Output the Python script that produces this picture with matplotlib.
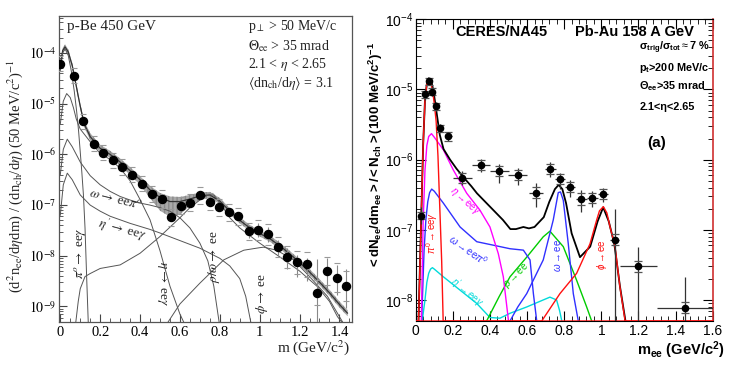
import matplotlib
matplotlib.use("Agg")
import matplotlib.pyplot as plt
import numpy as np
from matplotlib.ticker import MultipleLocator, LogLocator, NullFormatter

plt.rcParams["mathtext.fontset"] = "custom"
plt.rcParams["mathtext.rm"] = "Liberation Sans"
plt.rcParams["mathtext.it"] = "Liberation Sans:italic"
plt.rcParams["mathtext.bf"] = "Liberation Sans:bold"

# ---------------- left panel: p-Be 450 GeV (values as log10) ----------------
pbe_m = [0.0, 0.069, 0.115, 0.169, 0.216, 0.263, 0.309, 0.361, 0.411, 0.458,
         0.509, 0.554, 0.604, 0.650, 0.701, 0.751, 0.797, 0.848, 0.893, 0.945,
         0.993, 1.043, 1.090, 1.138, 1.189, 1.239, 1.286, 1.336, 1.386, 1.433]
pbe_log = [-4.21, -4.45, -5.35, -5.79, -5.97, -6.12, -6.25, -6.40, -6.58, -6.78,
           -6.88, -7.24, -7.01, -6.95, -6.81, -6.93, -7.04, -7.14, -7.22, -7.52,
           -7.49, -7.58, -7.83, -8.02, -8.13, -8.17, -8.73, -8.30, -8.43, -8.60]
pbe_up = [0.05, 0.05, 0.05, 0.05, 0.05, 0.05, 0.05, 0.05, 0.05, 0.05,
          0.05, 0.05, 0.05, 0.05, 0.05, 0.05, 0.05, 0.05, 0.05, 0.13,
          0.13, 0.15, 0.15, 0.18, 0.15, 0.13, 0.66, 0.26, 0.25, 0.33]
pbe_dn = [0.05, 0.05, 0.05, 0.05, 0.05, 0.05, 0.05, 0.05, 0.05, 0.05,
          0.05, 0.05, 0.05, 0.05, 0.05, 0.05, 0.05, 0.05, 0.05, 0.13,
          0.13, 0.15, 0.18, 0.25, 0.28, 0.33, 1.2, 0.36, 0.34, 0.43]
pbe_sys = [0.15, 0.15, 0.15, 0.15, 0.15, 0.15, 0.15, 0.15, 0.15, 0.15,
           0.17, 0.17, 0.17, 0.17, 0.17, 0.17, 0.17, 0.17, 0.17, 0.17,
           0.2, 0.2, 0.2, 0.22, 0.22, 0.25, 0.25, 0.28, 0.28, 0.3]

cock_m = [0.0, 0.012, 0.024, 0.04, 0.06, 0.08, 0.1, 0.12, 0.15, 0.2, 0.25, 0.3,
          0.35, 0.4, 0.45, 0.5, 0.55, 0.6, 0.65, 0.7, 0.75, 0.8, 0.85, 0.9, 0.95,
          1.0, 1.05, 1.1, 1.15, 1.2, 1.25, 1.3, 1.35, 1.4, 1.44]
cock_log = [-4.25, -3.95, -3.88, -3.98, -4.25, -4.65, -5.05, -5.4, -5.65, -5.88,
            -6.0, -6.15, -6.32, -6.5, -6.7, -6.85, -6.93, -6.93, -6.88, -6.82,
            -6.8, -6.92, -7.12, -7.3, -7.45, -7.56, -7.66, -7.8, -7.96, -8.13,
            -8.32, -8.52, -8.73, -8.96, -9.13]
cock_hi = [0.05, 0.05, 0.05, 0.05, 0.05, 0.05, 0.05, 0.06, 0.07, 0.07, 0.07, 0.07,
           0.07, 0.07, 0.08, 0.09, 0.1, 0.09, 0.08, 0.07, 0.06, 0.06, 0.06,
           0.06, 0.06, 0.06, 0.06, 0.06, 0.06, 0.06, 0.06, 0.06, 0.06, 0.06, 0.06]
cock_lo = [0.05, 0.05, 0.05, 0.05, 0.05, 0.05, 0.05, 0.06, 0.07, 0.07, 0.07, 0.07,
           0.08, 0.1, 0.16, 0.26, 0.3, 0.26, 0.13, 0.08, 0.06, 0.06, 0.06,
           0.06, 0.06, 0.06, 0.06, 0.06, 0.06, 0.06, 0.06, 0.06, 0.06, 0.06, 0.06]

pi0_m = [0.0, 0.012, 0.024, 0.04, 0.055, 0.07, 0.082, 0.092, 0.1, 0.108, 0.116,
         0.124, 0.132, 0.141]
pi0_log = [-4.35, -4.0, -3.92, -4.05, -4.35, -4.75, -5.15, -5.55, -5.95, -6.35,
           -6.8, -7.45, -8.4, -9.4]
eta_m = [0.0, 0.015, 0.032, 0.05, 0.066, 0.08, 0.1, 0.15, 0.2, 0.25, 0.3, 0.35,
         0.4, 0.45, 0.5, 0.55, 0.6, 0.63]
eta_log = [-5.4, -4.95, -4.8, -4.88, -5.08, -5.3, -5.5, -5.75, -5.98, -6.1, -6.27,
           -6.52, -6.89, -7.29, -7.9, -8.6, -9.15, -9.4]
omd_m = [0.0, 0.015, 0.035, 0.06, 0.1, 0.15, 0.2, 0.25, 0.3, 0.35, 0.4, 0.45,
         0.5, 0.55, 0.6, 0.65, 0.7, 0.74, 0.77, 0.8]
omd_log = [-6.4, -5.9, -5.7, -5.85, -6.15, -6.42, -6.6, -6.73, -6.83, -6.9, -6.96,
           -7.0, -7.05, -7.12, -7.25, -7.45, -7.75, -8.1, -8.6, -9.4]
etap_m = [0.0, 0.015, 0.035, 0.06, 0.1, 0.15, 0.2, 0.25, 0.3, 0.35, 0.4, 0.45,
          0.5, 0.6, 0.7, 0.8, 0.85, 0.9, 0.93, 0.96]
etap_log = [-7.2, -6.6, -6.37, -6.5, -6.8, -7.0, -7.12, -7.22, -7.29, -7.36,
            -7.42, -7.48, -7.55, -7.7, -7.85, -8.05, -8.2, -8.45, -8.8, -9.4]
rho_m = [0.075, 0.09, 0.1, 0.124, 0.15, 0.2, 0.3, 0.4, 0.5, 0.6, 0.65, 0.7,
         0.74, 0.77, 0.8, 0.85, 0.9, 1.0, 1.1, 1.2, 1.29, 1.35, 1.39, 1.43]
rho_log = [-9.4, -8.9, -8.65, -8.41, -8.35, -8.25, -8.18, -7.95, -7.62, -7.25,
           -7.05, -6.9, -6.8, -6.8, -6.95, -7.25, -7.45, -7.75, -8.02, -8.3,
           -8.61, -8.9, -9.2, -9.4]
phi_m = [0.525, 0.6, 0.7, 0.82, 0.92, 1.0, 1.02, 1.085, 1.17, 1.25, 1.34, 1.4, 1.43]
phi_log = [-9.4, -8.95, -8.54, -8.08, -7.89, -7.84, -7.83, -7.89, -8.08, -8.41,
           -8.8, -9.2, -9.4]

left_yticks = [1e-4, 1e-5, 1e-6, 1e-7, 1e-8, 1e-9]
left_ylabels = [r"$10^{-4}$", r"$10^{-5}$", r"$10^{-6}$", r"$10^{-7}$",
                r"$10^{-8}$", r"$10^{-9}$"]
left_xticks = [0, 0.2, 0.4, 0.6, 0.8, 1.0, 1.2, 1.4]
left_xlabels = ["0", "0.2", "0.4", "0.6", "0.8", "1", "1.2", "1.4"]

# ---------------- right panel: CERES Pb-Au 158 A GeV (log10) ----------------
pbau_m = [0.029, 0.05, 0.072, 0.09, 0.109, 0.133, 0.176, 0.251, 0.352, 0.45,
          0.549, 0.648, 0.725, 0.776, 0.831, 0.891, 0.952, 1.011, 1.072, 1.2, 1.45]
pbau_log = [-6.80, -5.07, -4.88, -5.03, -5.24, -5.55, -5.67, -6.26, -6.08, -6.16,
            -6.22, -6.47, -6.13, -6.28, -6.39, -6.56, -6.55, -6.49, -7.14, -7.52,
            -8.11]
pbau_bin = [0.01, 0.01, 0.01, 0.01, 0.01, 0.01, 0.02, 0.05, 0.05, 0.05, 0.05,
            0.04, 0.03, 0.027, 0.027, 0.03, 0.03, 0.027, 0.025, 0.1, 0.15]
pbau_up = [0.12, 0.08, 0.05, 0.06, 0.06, 0.06, 0.06, 0.1, 0.095, 0.095, 0.095,
           0.13, 0.095, 0.095, 0.095, 0.13, 0.1, 0.08, 0.43, 0.28, 0.44]
pbau_dn = [0.12, 0.08, 0.05, 0.06, 0.06, 0.06, 0.06, 0.1, 0.095, 0.17, 0.14,
           0.2, 0.12, 0.14, 0.14, 0.18, 0.13, 0.11, 3.0, 3.0, 3.0]
pbau_sys = [0.05, 0.05, 0.05, 0.05, 0.05, 0.05, 0.06, 0.07, 0.07, 0.07, 0.07,
            0.08, 0.07, 0.07, 0.07, 0.08, 0.07, 0.07, 0.08, 0.08, 0.08]

r_tot_m = [0.015, 0.025, 0.03, 0.04, 0.05, 0.06, 0.07, 0.08, 0.09, 0.1, 0.113,
           0.13, 0.15, 0.185, 0.22, 0.257, 0.3, 0.33, 0.4, 0.47, 0.51, 0.54, 0.58,
           0.61, 0.64, 0.69, 0.72, 0.75, 0.77, 0.79, 0.81, 0.84, 0.885, 0.94,
           0.98, 1.01, 1.04, 1.07, 1.1, 1.13]
r_tot_log = [-8.3, -7.3, -6.8, -5.8, -5.15, -4.92, -4.84, -4.86, -4.95, -5.1,
             -5.34, -5.65, -5.85, -6.0, -6.13, -6.25, -6.38, -6.48, -6.67, -6.86,
             -6.99, -6.99, -6.96, -6.98, -6.96, -6.82, -6.6, -6.42, -6.36, -6.42,
             -6.62, -7.05, -7.39, -7.24, -6.88, -6.68, -6.88, -7.2, -7.8, -8.3]
r_pi0_m = [0.0, 0.015, 0.025, 0.03, 0.04, 0.05, 0.06, 0.07, 0.08, 0.09, 0.1,
           0.11, 0.12, 0.13, 0.14, 0.148, 1.6]
r_pi0_log = [-9, -8.3, -7.3, -6.8, -5.8, -5.15, -4.92, -4.86, -4.9, -5.0, -5.2,
             -5.45, -5.95, -6.7, -7.45, -8.3, -9]
r_eta_m = [0.03, 0.04, 0.05, 0.06, 0.07, 0.085, 0.1, 0.149, 0.203, 0.275, 0.346,
           0.4, 0.445, 0.472, 0.5]
r_eta_log = [-8.3, -6.9, -6.15, -5.8, -5.67, -5.63, -5.68, -5.86, -6.15, -6.48,
             -6.72, -6.96, -7.34, -7.67, -8.3]
r_omd_m = [0.032, 0.045, 0.055, 0.065, 0.075, 0.086, 0.1, 0.149, 0.239, 0.329,
           0.419, 0.508, 0.58, 0.616, 0.634, 0.652]
r_omd_log = [-8.3, -7.3, -6.85, -6.6, -6.47, -6.42, -6.45, -6.62, -6.96, -7.17,
             -7.22, -7.27, -7.29, -7.43, -7.91, -8.3]
r_etap_m = [0.035, 0.05, 0.06, 0.07, 0.08, 0.09, 0.1, 0.149, 0.239, 0.329, 0.4,
            0.454, 0.508, 0.598, 0.687, 0.723, 0.759, 0.775, 0.787]
r_etap_log = [-8.3, -8.0, -7.75, -7.62, -7.56, -7.54, -7.56, -7.67, -7.86, -8.05,
              -8.25, -8.26, -8.19, -8.1, -8.0, -7.96, -8.0, -8.15, -8.3]
r_rho_m = [0.382, 0.45, 0.508, 0.598, 0.687, 0.723, 0.795, 0.867, 0.921, 0.948]
r_rho_log = [-8.3, -7.95, -7.67, -7.39, -7.1, -7.02, -7.24, -7.72, -8.1, -8.3]
r_om_m = [0.508, 0.55, 0.598, 0.687, 0.741, 0.768, 0.78, 0.795, 0.822, 0.849, 0.876]
r_om_log = [-8.3, -8.1, -7.91, -7.43, -6.86, -6.47, -6.46, -6.58, -7.2, -7.91, -8.3]
r_phi_m = [0.0, 0.679, 0.777, 0.867, 0.939, 0.975, 0.99, 1.011, 1.03, 1.047,
           1.074, 1.1, 1.128, 1.6]
r_phi_log = [-9, -8.3, -7.91, -7.62, -7.2, -6.86, -6.73, -6.67, -6.76, -6.96,
             -7.24, -7.81, -8.3, -9]

right_yticks = [1e-4, 1e-5, 1e-6, 1e-7, 1e-8]
right_ylabels = [r"$\mathregular{10^{-4}}$", r"$\mathregular{10^{-5}}$",
                 r"$\mathregular{10^{-6}}$", r"$\mathregular{10^{-7}}$",
                 r"$\mathregular{10^{-8}}$"]
right_xticks = [0, 0.2, 0.4, 0.6, 0.8, 1.0, 1.2, 1.4, 1.6]
right_xlabels = ["0", "0.2", "0.4", "0.6", "0.8", "1", "1.2", "1.4", "1.6"]


def lin(vals):
    return 10.0 ** np.asarray(vals, dtype=float)


SERIF = "Liberation Serif"
SANS = "Liberation Sans"

fig = plt.figure(figsize=(7.47, 3.78), dpi=100)

# ============================ left panel ============================
ax1 = fig.add_axes([58.7 / 747, 1 - 322 / 378, 293.3 / 747, 306 / 378])
ax1.set_yscale("log")

cl = np.asarray(cock_log)
ax1.fill_between(cock_m, lin(cl - np.asarray(cock_lo)), lin(cl + np.asarray(cock_hi)),
                 facecolor="#a9a9a9", edgecolor="#8a8a8a", hatch="||||", lw=0,
                 zorder=1)
ax1.plot(cock_m, lin(cl), color="#333333", lw=0.9, zorder=2)

for xs, ls in [(pi0_m, pi0_log), (eta_m, eta_log), (omd_m, omd_log),
               (etap_m, etap_log), (rho_m, rho_log), (phi_m, phi_log)]:
    ax1.plot(xs, lin(ls), color="#555555", lw=0.7, zorder=2)

pl = np.asarray(pbe_log)
yp = lin(pl)
ax1.errorbar(pbe_m, yp,
             yerr=[yp - lin(pl - np.asarray(pbe_dn)), lin(pl + np.asarray(pbe_up)) - yp],
             fmt="none", ecolor="#888888", elinewidth=0.8, zorder=3)
ax1.plot(pbe_m, lin(pl + np.asarray(pbe_sys)), ls="none",
         marker="_", ms=4, mew=0.8, color="#999999", zorder=3)
ax1.plot(pbe_m, lin(pl - np.asarray(pbe_sys)), ls="none",
         marker="_", ms=4, mew=0.8, color="#999999", zorder=3)
ax1.plot(pbe_m, yp, "o", color="black", ms=5.8, zorder=4)

ax1.set_xlim(-0.008, 1.463)
ax1.set_ylim(10 ** -9.306, 10 ** -3.27)
ax1.set_yticks(left_yticks)
ax1.set_yticklabels(left_ylabels)
ax1.yaxis.set_minor_locator(LogLocator(base=10, subs=np.arange(2, 10) * 1.0, numticks=20))
ax1.yaxis.set_minor_formatter(NullFormatter())
ax1.set_xticks(left_xticks)
ax1.set_xticklabels(left_xlabels)
ax1.xaxis.set_minor_locator(MultipleLocator(0.05))
ax1.tick_params(which="both", direction="in", top=False, right=False,
                color="#444444", labelsize=10.5, pad=3)
ax1.tick_params(axis="y", labelsize=10, pad=2)
ax1.tick_params(which="major", length=6)
ax1.tick_params(which="minor", length=3)
for t in ax1.get_xticklabels() + ax1.get_yticklabels():
    t.set_fontfamily(SERIF)
    t.set_math_fontfamily("stix")
for s in ax1.spines.values():
    s.set_color("#555555")
    s.set_linewidth(0.9)

kw = dict(family=SERIF, math_fontfamily="stix", color="#222222")
ax1.text(0.027, 0.965, "p-Be 450 GeV", transform=ax1.transAxes, fontsize=11,
         va="center", ha="left", **kw)
ax1.text(0.645, 0.965, r"p$_\perp$ > 50 MeV/c", transform=ax1.transAxes,
         fontsize=10, va="center", **kw)
ax1.text(0.645, 0.900, r"$\Theta_{\rm ee}$ > 35 mrad", transform=ax1.transAxes,
         fontsize=10, va="center", **kw)
ax1.text(0.645, 0.840, r"2.1 < $\eta$ < 2.65", transform=ax1.transAxes,
         fontsize=10, va="center", **kw)
ax1.text(0.645, 0.780, r"$\langle$dn$_{\rm ch}$/d$\eta\rangle$ = 3.1",
         transform=ax1.transAxes, fontsize=10, va="center", **kw)

ax1.text(0.10, 10 ** -7.95, r"$\pi^o\rightarrow$ ee$\gamma$", rotation=90,
         fontsize=9.5, ha="center", va="center", **kw)
ax1.text(0.275, 10 ** -6.88, r"$\omega\rightarrow$ ee$\pi^o$", rotation=-14,
         fontsize=9.5, ha="center", va="center", **kw)
ax1.text(0.308, 10 ** -7.49, r"$\eta'\rightarrow$ ee$\gamma$", rotation=-15,
         fontsize=9.5, ha="center", va="center", **kw)
ax1.text(0.508, 10 ** -8.54, r"$\eta\rightarrow$ ee$\gamma$", rotation=-90,
         fontsize=9.5, ha="center", va="center", **kw)
ax1.text(0.769, 10 ** -8.02, r"$\rho/\omega\rightarrow$ ee", rotation=90,
         fontsize=9.5, ha="center", va="center", **kw)
ax1.text(1.01, 10 ** -8.74, r"$\phi\rightarrow$ ee", rotation=90,
         fontsize=9.5, ha="center", va="center", **kw)

fig.text(15 / 747, 1 - 176 / 378,
         r"(d$^2$n$_{\rm ee}$/d$\eta$dm) / (dn$_{\rm ch}$/d$\eta$) (50 MeV/c$^2$)$^{-1}$",
         rotation=90, ha="center", va="center", fontsize=10.5, **kw)
fig.text(350 / 747, 1 - 348 / 378, r"m (GeV/c$^2$)", ha="right", va="center",
         fontsize=11, **kw)

# ============================ right panel ============================
ax2 = fig.add_axes([415.7 / 747, 1 - 321 / 378, 297 / 747, 301.7 / 378])
ax2.set_yscale("log")
floor = 10 ** -8.3


def rplot(xs, ls, color, lw=1.0, z=2):
    ax2.plot(xs, np.clip(lin(ls), floor, None), color=color, lw=lw, zorder=z)


rplot(r_etap_m, r_etap_log, "#00dada")
rplot(r_rho_m, r_rho_log, "#00cc00")
rplot(r_omd_m, r_omd_log, "#3030ff")
rplot(r_om_m, r_om_log, "#3030ff")
rplot(r_eta_m, r_eta_log, "#ff00ff")
rplot(r_phi_m, r_phi_log, "#ff1010", lw=1.0, z=3)
rplot(r_pi0_m, r_pi0_log, "#ff1010", lw=1.0, z=3)
rplot(r_tot_m, r_tot_log, "black", lw=1.3, z=2.5)

rl = np.asarray(pbau_log)
yr = lin(rl)
ax2.errorbar(pbau_m, yr, xerr=pbau_bin,
             yerr=[yr - lin(rl - np.asarray(pbau_dn)), lin(rl + np.asarray(pbau_up)) - yr],
             fmt="o", color="black", ms=4.5, ecolor="#333333", elinewidth=0.9,
             capsize=0, zorder=5)
ax2.errorbar(pbau_m, yr,
             yerr=[yr - lin(rl - np.asarray(pbau_sys)), lin(rl + np.asarray(pbau_sys)) - yr],
             fmt="none", ecolor="#555555", elinewidth=0, capsize=3, capthick=0.9,
             zorder=5)

ax2.set_xlim(0, 1.6)
ax2.set_ylim(floor, 1e-4)
ax2.set_yticks(right_yticks)
ax2.set_yticklabels(right_ylabels)
ax2.yaxis.set_minor_locator(LogLocator(base=10, subs=np.arange(2, 10) * 1.0, numticks=20))
ax2.yaxis.set_minor_formatter(NullFormatter())
ax2.set_xticks(right_xticks)
ax2.set_xticklabels(right_xlabels)
ax2.xaxis.set_minor_locator(MultipleLocator(0.04))
ax2.tick_params(which="both", direction="in", top=True, right=True,
                labelsize=10, pad=2)
ax2.tick_params(which="major", length=7)
ax2.tick_params(which="minor", length=3.5)
for t in ax2.get_xticklabels() + ax2.get_yticklabels():
    t.set_fontfamily(SANS)
for s in ["left", "bottom", "top"]:
    ax2.spines[s].set_color("black")
ax2.spines["right"].set_color("#d03030")
ax2.spines["right"].set_linewidth(1.2)

bk = dict(family=SANS, fontweight="bold", color="black")
ax2.text(0.29, 0.959, "CERES/NA45", transform=ax2.transAxes, fontsize=10.5,
         ha="center", va="center", **bk)
ax2.text(0.738, 0.959, "Pb-Au 158 A GeV", transform=ax2.transAxes, fontsize=10.5,
         ha="center", va="center", **bk)
ax2.text(0.753, 0.904, r"$\mathbf{\sigma_{trig}/\sigma_{tot}}$$\approx$7 %",
         transform=ax2.transAxes, fontsize=7.8, va="center", **bk)
ax2.text(0.753, 0.837, r"$\mathbf{p_t}$>200 MeV/c", transform=ax2.transAxes,
         fontsize=7.8, va="center", **bk)
ax2.text(0.753, 0.779, r"$\mathbf{\Theta_{ee}}$>35 mrad", transform=ax2.transAxes,
         fontsize=7.8, va="center", **bk)
ax2.text(0.753, 0.710, "2.1<η<2.65", transform=ax2.transAxes, fontsize=7.8,
         va="center", **bk)
ax2.text(0.811, 0.591, "(a)", transform=ax2.transAxes, fontsize=11,
         ha="center", va="center", **bk)

sk = dict(family=SANS, fontsize=7, ha="center", va="center")
ax2.text(0.086, 10 ** -7.05, r"$\pi^0\rightarrow$ee$\gamma$", rotation=90,
         color="#ff1010", **sk)
ax2.text(0.266, 10 ** -6.6, r"$\eta\rightarrow$ee$\gamma$", rotation=-42,
         color="#ff00ff", **sk)
ax2.text(0.283, 10 ** -7.29, r"$\omega\rightarrow$ee$\pi^0$", rotation=-35,
         color="#3030ff", **sk)
ax2.text(0.275, 10 ** -7.89, r"$\eta'\rightarrow$ee$\gamma$", rotation=-40,
         color="#00dada", **sk)
ax2.text(0.544, 10 ** -7.65, r"$\rho\rightarrow$ee", rotation=45,
         color="#00cc00", **sk)
ax2.text(0.765, 10 ** -7.36, r"$\omega\rightarrow$ee", rotation=90,
         color="#3030ff", **sk)
ax2.text(1.005, 10 ** -7.36, r"$\phi\rightarrow$ee", rotation=90,
         color="#ff1010", **sk)

fig.text(376 / 747, 1 - 156 / 378,
         r"$\mathbf{<dN_{ee}/dm_{ee}>/<N_{ch}>(100\ MeV/c^{2})^{-1}}$",
         rotation=90, ha="center", va="center", fontsize=9.5, **bk)
fig.text(725 / 747, 1 - 350 / 378, r"$\mathbf{m_{ee}}$ (GeV/c$\mathbf{^2}$)",
         ha="right", va="center", fontsize=10.5, **bk)

fig.savefig("out.png", dpi=100)
